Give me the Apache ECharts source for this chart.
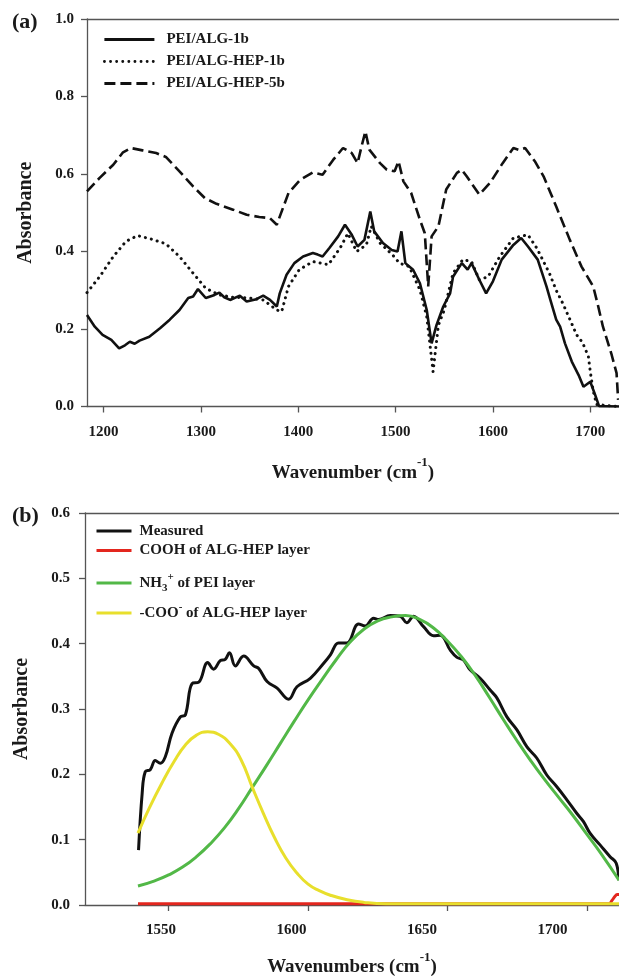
<!DOCTYPE html>
<html>
<head>
<meta charset="utf-8">
<script src="https://cdn.jsdelivr.net/npm/echarts@6/dist/echarts.min.js"></script>
<style>html,body{margin:0;padding:0;background:#fff}#c{width:619px;height:979px}</style>
</head>
<body>
<div id="c"></div>
<script>
// ---------- Panel (a) data ----------
const solidA = [[1183,0.236],[1191,0.206],[1199,0.185],[1208,0.172],[1216,0.150],[1222,0.158],[1227,0.167],[1232,0.162],[1237,0.170],[1247,0.180],[1258,0.202],[1268,0.224],[1278,0.249],[1287,0.280],[1292,0.284],[1297,0.303],[1305,0.280],[1314,0.288],[1319,0.294],[1324,0.282],[1330,0.275],[1340,0.286],[1347,0.271],[1357,0.277],[1364,0.286],[1371,0.275],[1378,0.258],[1381,0.292],[1388,0.34],[1396,0.37],[1405,0.387],[1415,0.396],[1420,0.392],[1425,0.387],[1432,0.409],[1441,0.439],[1448,0.469],[1455,0.443],[1461,0.413],[1468,0.43],[1474,0.503],[1478,0.452],[1487,0.422],[1496,0.404],[1502,0.4],[1506,0.452],[1510,0.37],[1518,0.353],[1525,0.318],[1532,0.249],[1537,0.163],[1542,0.21],[1549,0.258],[1556,0.292],[1559,0.335],[1568,0.37],[1574,0.353],[1578,0.37],[1586,0.327],[1593,0.292],[1600,0.323],[1609,0.379],[1621,0.417],[1629,0.435],[1636,0.413],[1646,0.379],[1655,0.31],[1659,0.275],[1665,0.224],[1669,0.206],[1674,0.163],[1681,0.116],[1688,0.081],[1693,0.051],[1700,0.064],[1705,0.03],[1709,0.001],[1729.5,0.0]];
const dottedA = [[1183,0.294],[1196,0.335],[1210,0.387],[1223,0.426],[1235,0.441],[1249,0.432],[1264,0.42],[1278,0.387],[1292,0.344],[1305,0.305],[1319,0.288],[1333,0.282],[1350,0.28],[1364,0.275],[1378,0.249],[1383,0.245],[1390,0.31],[1401,0.353],[1415,0.374],[1431,0.366],[1443,0.409],[1451,0.447],[1460,0.4],[1470,0.417],[1475,0.465],[1484,0.422],[1497,0.391],[1504,0.37],[1514,0.361],[1525,0.301],[1532,0.232],[1538.5,0.09],[1544,0.21],[1550,0.249],[1559,0.344],[1569,0.379],[1578,0.374],[1586,0.327],[1595,0.335],[1607,0.387],[1621,0.435],[1636,0.443],[1645,0.409],[1658,0.344],[1665,0.30],[1672,0.265],[1679,0.225],[1686,0.185],[1692,0.165],[1698,0.13],[1700,0.09],[1703,0.04],[1706.5,0.005],[1729.5,0.0]];
const dashedA = [[1183,0.555],[1196,0.59],[1210,0.624],[1220,0.656],[1228,0.667],[1240,0.661],[1254,0.654],[1264,0.644],[1278,0.607],[1292,0.568],[1304,0.538],[1316,0.523],[1333,0.508],[1347,0.495],[1360,0.489],[1371,0.486],[1378,0.469],[1381,0.49],[1390,0.551],[1402,0.585],[1415,0.604],[1425,0.598],[1436,0.637],[1446,0.667],[1455,0.654],[1461,0.628],[1465,0.671],[1469,0.71],[1473,0.663],[1484,0.628],[1491,0.611],[1499,0.607],[1503,0.633],[1508,0.581],[1516,0.551],[1525,0.482],[1530,0.447],[1533.5,0.31],[1537,0.439],[1544,0.465],[1552,0.56],[1563,0.603],[1568,0.611],[1573,0.594],[1586,0.547],[1597,0.577],[1610,0.628],[1621,0.667],[1627,0.662],[1633,0.667],[1643,0.633],[1652,0.594],[1665,0.516],[1679,0.43],[1691,0.361],[1703,0.31],[1708,0.26],[1713,0.206],[1722,0.133],[1727,0.086],[1728.6,0.017]];
const namesA = ['PEI/ALG-1b','PEI/ALG-HEP-1b','PEI/ALG-HEP-5b'];
const xTicksA = [1200,1300,1400,1500,1600,1700];

// ---------- Panel (b) data ----------
const measuredB = [[1539.2,0.084],[1540.5,0.171],[1541.6,0.204],[1543.4,0.207],[1545.2,0.221],[1547,0.217],[1548.8,0.227],[1551.2,0.263],[1554.2,0.288],[1556,0.291],[1558.4,0.339],[1560.8,0.341],[1564,0.371],[1566.1,0.361],[1568.5,0.374],[1570.3,0.376],[1571.8,0.386],[1573.9,0.366],[1576.9,0.381],[1580.5,0.366],[1582.3,0.362],[1585.3,0.342],[1588.9,0.332],[1593,0.315],[1596,0.334],[1600.8,0.347],[1605.6,0.37],[1608,0.383],[1610.9,0.401],[1613.9,0.401],[1618.1,0.43],[1620.5,0.427],[1623.5,0.439],[1625.3,0.437],[1629.5,0.443],[1633,0.442],[1635.4,0.432],[1637.8,0.442],[1641.4,0.426],[1645,0.412],[1647.4,0.413],[1651,0.39],[1653.4,0.379],[1655.7,0.375],[1658.1,0.36],[1661.7,0.347],[1665.3,0.329],[1667.7,0.317],[1671.3,0.288],[1674.9,0.268],[1678.5,0.242],[1682,0.225],[1685.6,0.199],[1689.2,0.181],[1692.8,0.161],[1696.4,0.14],[1698.7,0.128],[1701.1,0.11],[1704.7,0.092],[1708.3,0.074],[1710.5,0.064],[1711.4,0.038]];
const coohB = [[1539,0.002],[1708,0.002],[1709,0.007],[1710,0.013],[1710.8,0.016],[1711.5,0.016]];
const nh3B = [[1539,0.029],[1545,0.037],[1550,0.046],[1555,0.058],[1560,0.074],[1565,0.094],[1570,0.118],[1575,0.147],[1580,0.18],[1585,0.213],[1590,0.247],[1595,0.281],[1600,0.314],[1605,0.345],[1610,0.375],[1615,0.402],[1620,0.422],[1625,0.435],[1630,0.441],[1635,0.443],[1640,0.437],[1645,0.424],[1650,0.404],[1655,0.38],[1660,0.351],[1665,0.318],[1670,0.284],[1675,0.251],[1680,0.22],[1685,0.191],[1690,0.164],[1695,0.137],[1700,0.108],[1705,0.079],[1711.5,0.038]];
const cooB = [[1539,0.11],[1543,0.148],[1548,0.19],[1552,0.22],[1556,0.245],[1560,0.26],[1564,0.265],[1568,0.261],[1572,0.247],[1576,0.222],[1580,0.18],[1584,0.14],[1588,0.103],[1592,0.072],[1596,0.049],[1600,0.032],[1604,0.022],[1608,0.015],[1614,0.008],[1620,0.004],[1628,0.002],[1711.5,0.002]];
const namesB = ['Measured','COOH of ALG-HEP layer','NH3+ of PEI layer','-COO- of ALG-HEP layer'];
const xTicksB = [1550,1600,1650,1700];

const FONT = "'Liberation Serif','Times New Roman',serif";
const AX = '#555';
const TXT = '#1a1a1a';
const richDefs = {
  n:   {fontFamily: FONT, fontWeight: 'bold', fontSize: 15, color: TXT, lineHeight: 22, verticalAlign: 'middle'},
  sup: {fontFamily: FONT, fontWeight: 'bold', fontSize: 11, color: TXT, verticalAlign: 'top', lineHeight: 22},
  sub: {fontFamily: FONT, fontWeight: 'bold', fontSize: 11, color: TXT, verticalAlign: 'bottom', lineHeight: 22}
};
const titleRich = {
  n:   {fontFamily: FONT, fontWeight: 'bold', fontSize: 19, color: TXT, lineHeight: 26, verticalAlign: 'bottom'},
  sup: {fontFamily: FONT, fontWeight: 'bold', fontSize: 13, color: TXT, lineHeight: 26, verticalAlign: 'top'}
};
const legendLabels = {
  'Measured': '{n|Measured}',
  'COOH of ALG-HEP layer': '{n|COOH of ALG-HEP layer}',
  'NH3+ of PEI layer': '{n|NH}{sub|3}{sup|+}{n| of PEI layer}',
  '-COO- of ALG-HEP layer': '{n|-COO}{sup|-}{n| of ALG-HEP layer}'
};

const tickLabelStyle = {fontFamily: FONT, fontWeight: 'bold', fontSize: 15, color: TXT};
const axisLine = {show: true, lineStyle: {color: AX, width: 1.3}};
const axisTick = {show: true, inside: false, length: 6, lineStyle: {color: AX, width: 1.3}};
const noSymbol = {opacity: 0, borderWidth: 0, color: 'rgba(0,0,0,0)', borderColor: 'rgba(0,0,0,0)'};

const chart = echarts.init(document.getElementById('c'), null, {renderer: 'canvas'});

const bLegends = namesB.map((nm, i) => ({
  show: true, orient: 'vertical', left: 90, top: [518.5, 538, 567, 597][i],
  itemWidth: 35, itemHeight: 14, data: [nm], selectedMode: false,
  itemStyle: noSymbol, lineStyle: {width: 3},
  formatter: n => legendLabels[n],
  textStyle: {fontFamily: FONT, fontWeight: 'bold', fontSize: 15, color: TXT, padding: [0,0,0,3], rich: richDefs}
}));

chart.setOption({
  animation: false,
  backgroundColor: '#fff',
  title: [
    {text: '(a)', left: 7, top: 6, textStyle: {fontFamily: FONT, fontWeight: 'bold', fontSize: 22, color: TXT}},
    {text: '(b)', left: 7, top: 500, textStyle: {fontFamily: FONT, fontWeight: 'bold', fontSize: 22, color: TXT}}
  ],
  legend: [{
    show: true, orient: 'vertical', left: 98, top: 27, itemWidth: 50, itemHeight: 14, itemGap: 7,
    data: namesA, selectedMode: false, itemStyle: noSymbol, lineStyle: {width: 2.8},
    textStyle: {fontFamily: FONT, fontWeight: 'bold', fontSize: 15, color: TXT, padding: [0,0,0,7]}
  }].concat(bLegends),
  grid: [
    {left: 87, top: 19, right: 0, height: 387.5, show: false},
    {left: 85, top: 513, right: 0, height: 392, show: false}
  ],
  xAxis: [
    {gridIndex: 0, type: 'value', position: 'bottom', min: 1183, max: 1729.5,
     axisLine: axisLine, axisTick: Object.assign({customValues: xTicksA}, axisTick),
     axisLabel: Object.assign({customValues: xTicksA, margin: 18, formatter: v => String(v)}, tickLabelStyle),
     splitLine: {show: false},
     name: '{n|Wavenumber (cm}{sup|-1}{n|)}', nameLocation: 'middle', nameGap: 50,
     nameTextStyle: {rich: titleRich}},
    {gridIndex: 0, type: 'value', position: 'top', min: 1183, max: 1729.5,
     axisLine: axisLine, axisTick: {show: false}, axisLabel: {show: false}, splitLine: {show: false}},
    {gridIndex: 1, type: 'value', position: 'bottom', min: 1520, max: 1711.5,
     axisLine: axisLine, axisTick: Object.assign({customValues: xTicksB}, axisTick),
     axisLabel: {show: false}, splitLine: {show: false}},
    {gridIndex: 1, type: 'value', position: 'bottom', min: 1520.9, max: 1725.5,
     axisLine: {show: false}, axisTick: {show: false},
     axisLabel: Object.assign({customValues: xTicksB, margin: 18, formatter: v => String(v)}, tickLabelStyle),
     splitLine: {show: false},
     name: '{n|Wavenumbers (cm}{sup|-1}{n|)}', nameLocation: 'middle', nameGap: 46,
     nameTextStyle: {rich: titleRich}},
    {gridIndex: 1, type: 'value', position: 'top', min: 1520, max: 1711.5,
     axisLine: axisLine, axisTick: {show: false}, axisLabel: {show: false}, splitLine: {show: false}}
  ],
  yAxis: [
    {gridIndex: 0, type: 'value', min: 0, max: 1, interval: 0.2,
     axisLine: axisLine, axisTick: axisTick,
     axisLabel: Object.assign({margin: 13, formatter: v => v.toFixed(1)}, tickLabelStyle),
     splitLine: {show: false},
     name: 'Absorbance', nameLocation: 'middle', nameGap: 51, nameRotate: 90,
     nameTextStyle: {fontFamily: FONT, fontWeight: 'bold', fontSize: 20, color: TXT}},
    {gridIndex: 1, type: 'value', min: 0, max: 0.6, interval: 0.1,
     axisLine: axisLine, axisTick: axisTick,
     axisLabel: Object.assign({margin: 15, formatter: v => v.toFixed(1)}, tickLabelStyle),
     splitLine: {show: false},
     name: 'Absorbance', nameLocation: 'middle', nameGap: 53, nameRotate: 90,
     nameTextStyle: {fontFamily: FONT, fontWeight: 'bold', fontSize: 20, color: TXT}}
  ],
  series: [
    {name: namesA[0], type: 'line', xAxisIndex: 0, yAxisIndex: 0, data: solidA, showSymbol: false, symbol: 'none',
     lineStyle: {color: '#111', width: 2.6, type: 'solid'}, itemStyle: {color: '#111'}},
    {name: namesA[1], type: 'line', xAxisIndex: 0, yAxisIndex: 0, data: dottedA, showSymbol: false, symbol: 'none',
     lineStyle: {color: '#111', width: 3, type: [0.1, 6], cap: 'round'}, itemStyle: {color: '#111'}},
    {name: namesA[2], type: 'line', xAxisIndex: 0, yAxisIndex: 0, data: dashedA, showSymbol: false, symbol: 'none',
     lineStyle: {color: '#111', width: 2.6, type: [11, 5]}, itemStyle: {color: '#111'}},
    {name: namesB[0], type: 'line', xAxisIndex: 2, yAxisIndex: 1, data: measuredB, showSymbol: false, symbol: 'none', smooth: 0.4,
     lineStyle: {color: '#111', width: 3}, itemStyle: {color: '#111'}},
    {name: namesB[1], type: 'line', xAxisIndex: 2, yAxisIndex: 1, data: coohB, showSymbol: false, symbol: 'none', smooth: 0.3,
     lineStyle: {color: '#e3261e', width: 3}, itemStyle: {color: '#e3261e'}},
    {name: namesB[2], type: 'line', xAxisIndex: 2, yAxisIndex: 1, data: nh3B, showSymbol: false, symbol: 'none', smooth: true,
     lineStyle: {color: '#52b847', width: 3}, itemStyle: {color: '#52b847'}},
    {name: namesB[3], type: 'line', xAxisIndex: 2, yAxisIndex: 1, data: cooB, showSymbol: false, symbol: 'none', smooth: true,
     lineStyle: {color: '#e8df2c', width: 3}, itemStyle: {color: '#e8df2c'}}
  ]
});
</script>
</body>
</html>
